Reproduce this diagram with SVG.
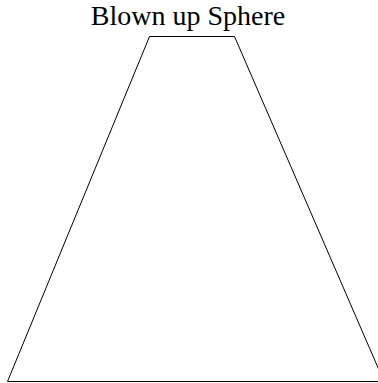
<svg xmlns="http://www.w3.org/2000/svg" width="378" height="383" viewBox="0 0 378 383">
<style>
.t{font-family:"Liberation Serif",serif;font-size:28px;fill:#000}
.s{fill:none;stroke:#000;stroke-width:1}
</style>
<rect width="378" height="383" fill="#fff"/>
<g id="title"><text class="t" x="188" y="25" text-anchor="middle">Blown up Sphere</text></g>
<g id="sphere"><polygon class="s" points="149.5,36.5 234.5,36.5 384,381.5 7.5,381.5"/></g>
</svg>
